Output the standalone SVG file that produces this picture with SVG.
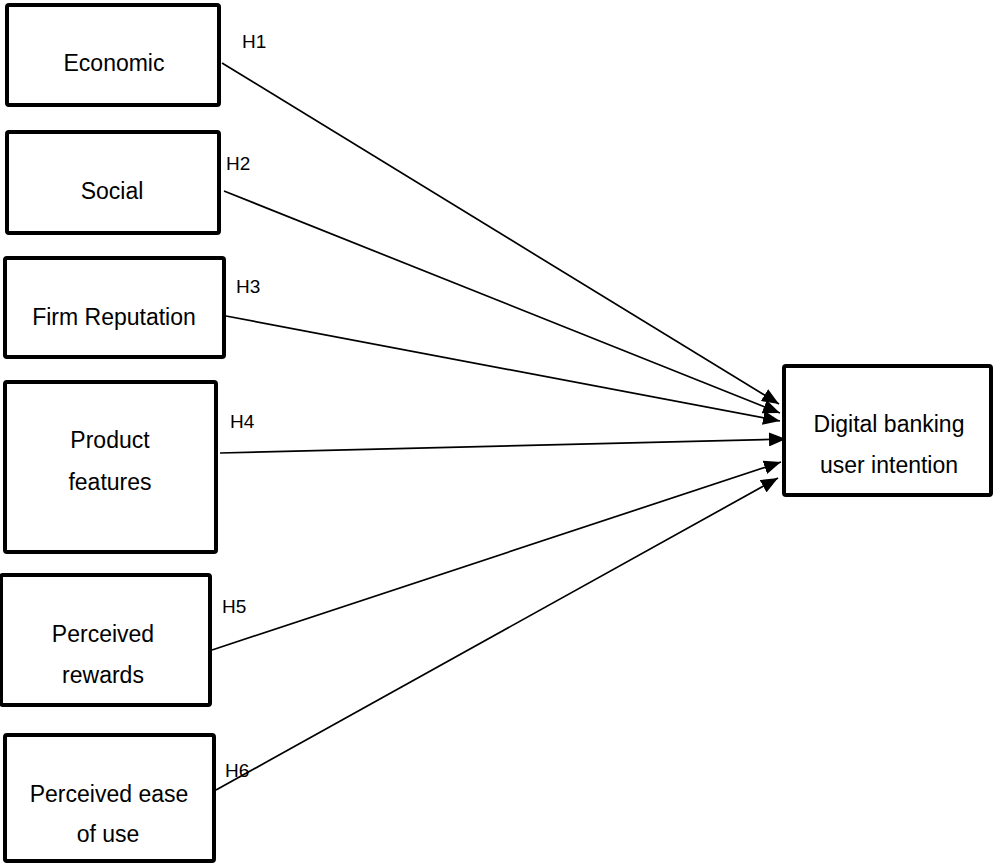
<svg xmlns="http://www.w3.org/2000/svg" width="995" height="864" viewBox="0 0 995 864">
<style>
.box{fill:#fff;stroke:#000;stroke-width:4;}
.t{font-family:"Liberation Sans",Arial,sans-serif;font-size:23px;fill:#000;text-anchor:middle;}
.h{font-family:"Liberation Sans",Arial,sans-serif;font-size:19px;fill:#000;}
.c{stroke:#000;stroke-width:1.7;fill:none;marker-end:url(#ah);}
</style>
<defs>
<marker id="ah" markerUnits="userSpaceOnUse" markerWidth="18" markerHeight="14" refX="17" refY="7" orient="auto">
<path d="M0,0 L17,7 L0,14 z" fill="#000"/>
</marker>
</defs>
<rect width="995" height="864" fill="#fff"/>
<g id="connectors">
<line class="c" x1="222" y1="63" x2="779" y2="404"/>
<line class="c" x1="224" y1="191" x2="780" y2="413"/>
<line class="c" x1="226" y1="316" x2="780" y2="421"/>
<line class="c" x1="220" y1="453" x2="786" y2="439"/>
<line class="c" x1="212" y1="650" x2="781" y2="462"/>
<line class="c" x1="216" y1="790" x2="778" y2="478"/>
</g>
<g id="economic">
<rect class="box" x="7" y="5" width="212" height="100" rx="2"/>
<text class="t" x="114" y="71">Economic</text>
</g>
<g id="social">
<rect class="box" x="7" y="132" width="212" height="101" rx="2"/>
<text class="t" x="112" y="199">Social</text>
</g>
<g id="firm-reputation">
<rect class="box" x="5" y="258" width="219" height="99" rx="2"/>
<text class="t" x="114" y="325">Firm Reputation</text>
</g>
<g id="product-features">
<rect class="box" x="5" y="382" width="211" height="170" rx="2"/>
<text class="t" x="110" y="448">Product</text>
<text class="t" x="110" y="490">features</text>
</g>
<g id="perceived-rewards">
<rect class="box" x="1" y="575" width="209" height="130" rx="2"/>
<text class="t" x="103" y="642">Perceived</text>
<text class="t" x="103" y="683">rewards</text>
</g>
<g id="perceived-ease">
<rect class="box" x="5" y="735" width="209" height="126" rx="2"/>
<text class="t" x="109" y="802">Perceived ease</text>
<text class="t" x="108" y="842">of use</text>
</g>
<g id="digital-banking">
<rect class="box" x="784" y="366" width="207" height="129" rx="2"/>
<text class="t" x="889" y="432">Digital banking</text>
<text class="t" x="889" y="473">user intention</text>
</g>
<g id="labels">
<text class="h" x="242" y="48">H1</text>
<text class="h" x="226" y="170">H2</text>
<text class="h" x="236" y="293">H3</text>
<text class="h" x="230" y="428">H4</text>
<text class="h" x="222" y="613">H5</text>
<text class="h" x="225" y="777">H6</text>
</g>
</svg>
